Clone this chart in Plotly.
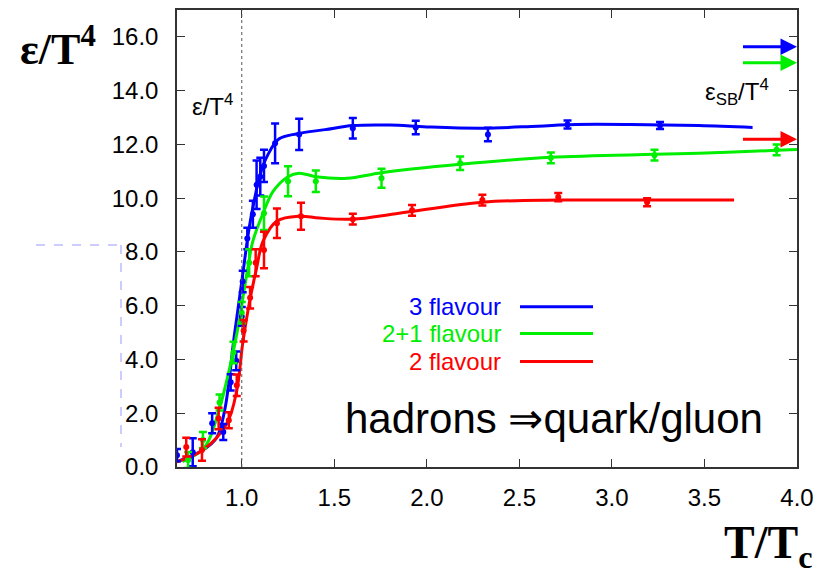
import plotly.graph_objects as go

# ---- lattice data: energy density eps/T^4 vs T/Tc ----
t_3f = [0.65, 0.735, 0.84, 0.90, 0.94, 0.97, 1.0, 1.005, 1.03, 1.06, 1.08, 1.10, 1.12, 1.18, 1.31, 1.60, 1.94, 2.33, 2.76, 3.26]
e_3f = [0.44, 0.55, 1.63, 1.30, 3.15, 3.95, 5.6, 6.9, 8.5, 9.4, 10.5, 10.8, 11.2, 12.04, 12.37, 12.6, 12.63, 12.37, 12.74, 12.7]
d_3f = [0.23, 0.52, 0.37, 0.30, 0.30, 0.35, 0.35, 0.40, 0.40, 0.50, 0.90, 0.70, 0.60, 0.74, 0.58, 0.38, 0.25, 0.25, 0.15, 0.13]

t_21f = [0.71, 0.79, 0.88, 0.955, 1.0, 1.04, 1.12, 1.25, 1.40, 1.755, 2.18, 2.67, 3.23, 3.89]
e_21f = [0.26, 1.0, 2.4, 4.26, 5.74, 7.6, 9.44, 10.63, 10.63, 10.74, 11.3, 11.5, 11.6, 11.8]
d_21f = [0.30, 0.30, 0.30, 0.40, 0.40, 0.50, 0.62, 0.56, 0.40, 0.35, 0.25, 0.20, 0.20, 0.20]

t_2f = [0.70, 0.785, 0.875, 0.93, 0.973, 1.01, 1.045, 1.075, 1.12, 1.19, 1.32, 1.60, 1.92, 2.30, 2.71, 3.19]
e_2f = [0.74, 0.63, 1.8, 1.74, 3.04, 5.07, 6.3, 7.6, 8.07, 9.07, 9.33, 9.22, 9.55, 9.93, 10.04, 9.85]
d_2f = [0.35, 0.40, 0.40, 0.30, 0.40, 0.40, 0.40, 0.50, 0.68, 0.55, 0.50, 0.20, 0.20, 0.20, 0.15, 0.15]

# smooth fit curves through the data
ct_3f = [0.65, 0.79, 0.865, 0.91, 0.96, 1.0, 1.04, 1.07, 1.10, 1.14, 1.2, 1.3, 1.45, 1.6, 1.8, 2.0, 2.3, 2.6, 2.8, 3.1, 3.47, 3.76]
ce_3f = [0.2, 0.63, 1.1, 2.2, 4.9, 6.9, 8.9, 10.0, 10.9, 11.6, 12.2, 12.4, 12.55, 12.7, 12.72, 12.65, 12.6, 12.68, 12.74, 12.74, 12.7, 12.63]

ct_21f = [0.68, 0.80, 0.88, 0.935, 0.98, 1.03, 1.06, 1.115, 1.17, 1.25, 1.31, 1.40, 1.57, 1.755, 2.18, 2.67, 3.23, 3.47, 3.89, 4.0]
ce_21f = [0.2, 0.74, 2.2, 3.7, 5.2, 7.3, 8.4, 9.44, 10.26, 10.8, 10.93, 10.8, 10.74, 10.95, 11.26, 11.52, 11.63, 11.67, 11.78, 11.81]

ct_2f = [0.65, 0.79, 0.92, 0.973, 1.005, 1.04, 1.08, 1.115, 1.19, 1.31, 1.42, 1.6, 1.85, 2.30, 2.71, 3.19, 3.66]
ce_2f = [0.19, 0.63, 1.63, 2.85, 4.6, 6.07, 7.4, 8.4, 9.15, 9.33, 9.26, 9.22, 9.44, 9.85, 9.93, 9.93, 9.93]

# Stefan-Boltzmann limits (arrows at the right edge)
sb_values = [15.63, 15.04, 12.19]

series_names = ["3 flavour", "2+1 flavour", "2 flavour"]
colors = ["#0000ff", "#00ee00", "#ff0000"]

points = [(t_3f, e_3f, d_3f), (t_21f, e_21f, d_21f), (t_2f, e_2f, d_2f)]
curves = [(ct_3f, ce_3f), (ct_21f, ce_21f), (ct_2f, ce_2f)]

W, H = 829, 569
L, R, T, B = 177, 797, 8, 467   # plot-area edges in pixels


def px(x):
    """pixel column -> paper x (relative to the plot area)"""
    return (x - L) / (R - L)


def py(y):
    """pixel row -> paper y (relative to the plot area)"""
    return (B - y) / (B - T)


fig = go.Figure()

for (ct, ce), col, name in zip(curves, colors, series_names):
    fig.add_trace(go.Scatter(x=ct, y=ce, mode="lines", name=name,
                             line=dict(color=col, width=3, shape="spline", smoothing=1.0),
                             showlegend=False, hoverinfo="skip"))

for (t, e, d), col, name in zip(points, colors, series_names):
    fig.add_trace(go.Scatter(x=t, y=e, mode="markers", name=name,
                             marker=dict(color=col, size=6),
                             error_y=dict(type="data", array=d, color=col, thickness=2.5, width=4),
                             showlegend=False))

FONT = "Liberation Sans, Arial, sans-serif"
SERIF = "Liberation Serif, Times New Roman, serif"

axis_common = dict(showline=True, linecolor="#333333", linewidth=1.5, mirror="ticks",
                   ticks="inside", ticklen=8, tickwidth=1, tickcolor="#333333",
                   showgrid=False, zeroline=False,
                   tickfont=dict(family=FONT, size=24, color="#000000"))

fig.update_xaxes(range=[0.65, 4.0], dtick=0.5, tick0=1.0, tickformat=".1f",
                 ticklabelstandoff=8, **axis_common)
fig.update_yaxes(range=[0, 17], dtick=2, tick0=0, tickformat=".1f",
                 ticklabelstandoff=12, **axis_common)

# critical temperature marker
fig.add_vline(x=1.0, line=dict(color="#555555", width=1, dash="dot"))

# SB arrows
for val, col in zip(sb_values, colors):
    fig.add_annotation(x=4.0, y=val, ax=3.70, ay=val, xref="x", yref="y",
                       axref="x", ayref="y", text="", showarrow=True,
                       arrowhead=2, arrowsize=1.1, arrowwidth=3, arrowcolor=col)

# legend drawn by hand: right-aligned text, line sample to the right
legend_rows = [306, 333, 361]
for name, col, row in zip(series_names, colors, legend_rows):
    fig.add_annotation(x=px(503), y=py(row), xref="paper", yref="paper", text=name,
                       showarrow=False, xanchor="right", yanchor="middle",
                       font=dict(family=FONT, size=24, color=col))
    fig.add_shape(type="line", xref="paper", yref="paper",
                  x0=px(520), x1=px(593), y0=py(row), y1=py(row),
                  line=dict(color=col, width=3))

fig.add_annotation(x=px(554), y=py(418), xref="paper", yref="paper",
                   text="hadrons \u21d2quark/gluon", showarrow=False,
                   xanchor="center", yanchor="middle",
                   font=dict(family=FONT, size=42, color="#000000"))

fig.add_annotation(x=px(212), y=py(103), xref="paper", yref="paper",
                   text="\u03b5/T<sup>4</sup>", showarrow=False,
                   xanchor="center", yanchor="middle",
                   font=dict(family=FONT, size=24, color="#000000"))

fig.add_annotation(x=px(737), y=py(90), xref="paper", yref="paper",
                   text="\u03b5<sub>SB</sub>/T<sup>4</sup>", showarrow=False,
                   xanchor="center", yanchor="middle",
                   font=dict(family=FONT, size=24, color="#000000"))

# axis titles
fig.add_annotation(x=px(58), y=py(45), xref="paper", yref="paper",
                   text="<b>\u03b5/T<sup>4</sup></b>", showarrow=False,
                   xanchor="center", yanchor="middle",
                   font=dict(family=SERIF, size=44, color="#000000"))
fig.add_annotation(x=px(768), y=py(546), xref="paper", yref="paper",
                   text="<b>T/T<sub>c</sub></b>", showarrow=False,
                   xanchor="center", yanchor="middle",
                   font=dict(family=SERIF, size=46, color="#000000"))

# light dashed guide lines at the left margin
fig.add_shape(type="line", xref="paper", yref="paper",
              x0=px(36), x1=px(121), y0=py(244), y1=py(244),
              line=dict(color="#ccccff", width=2, dash="dash"))
fig.add_shape(type="line", xref="paper", yref="paper",
              x0=px(121), x1=px(121), y0=py(244), y1=py(447),
              line=dict(color="#ccccff", width=2, dash="dash"))

fig.update_layout(width=W, height=H, margin=dict(l=L, r=W - R, t=T, b=H - B),
                  paper_bgcolor="white", plot_bgcolor="white", showlegend=False)

fig.write_html("out.html")
